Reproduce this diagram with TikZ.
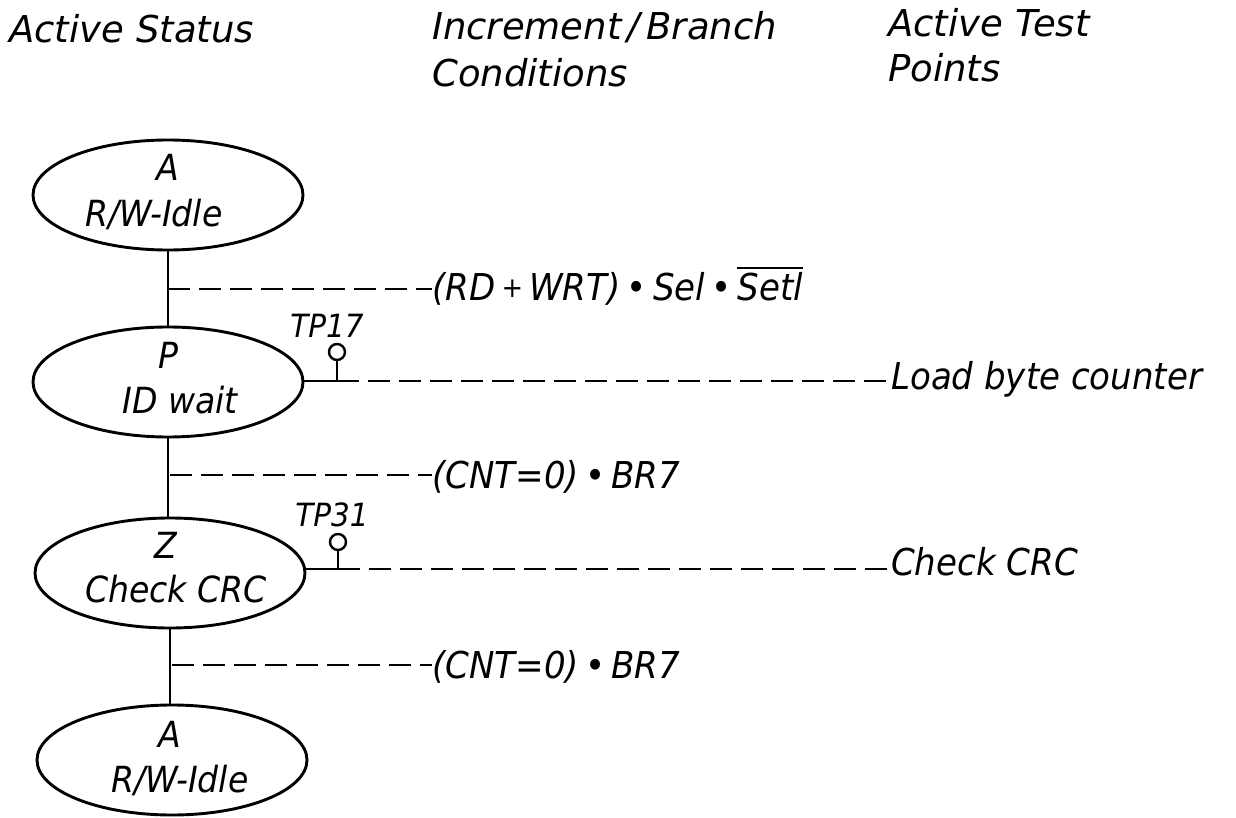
\documentclass[tikz,border=0pt]{standalone}
\usepackage{fontspec}
\setmainfont{DejaVu Sans}
\newfontfamily\bodyfont[FakeStretch=0.92]{DejaVu Sans}
\usetikzlibrary{shapes.geometric}
\newcommand{\ovlbar}[1]{\vbox{\hrule height 2.2pt\kern 3pt\hbox{#1}}}
\newcommand{\smplus}{\,\raisebox{2.5pt}{\fontsize{28}{30}\selectfont +}\,}
\begin{document}
\begin{tikzpicture}[x=1pt,y=-1pt,
  head/.style={font=\fontsize{37}{45}\selectfont\itshape, inner sep=0pt},
  lbl/.style={font=\bodyfont\fontsize{37}{45}\selectfont\itshape, inner sep=0pt},
  inlbl/.style={font=\bodyfont\fontsize{36}{45}\selectfont\itshape, inner sep=0pt},
  tplbl/.style={font=\bodyfont\fontsize{32}{36}\selectfont\itshape, inner sep=0pt},
  state/.style={ellipse, draw, line width=2.9pt, minimum width=270pt, minimum height=110pt, inner sep=0pt},
  wire/.style={line width=2.6pt},
  cond/.style={line width=2.3pt, dash pattern=on 22pt off 9pt},
  tpcirc/.style={circle, draw, line width=2.4pt, minimum size=16pt, inner sep=0pt}]
\useasboundingbox (0,0) rectangle (1236,818);

% headers
\node[head, anchor=base west] (h1) at (9,43) {Active Status};
\node[head, anchor=base west] (h2a) at (432,40) {Increment\,/\,Branch};
\node[head, anchor=base west] (h2b) at (432,87) {Conditions};
\node[head, anchor=base west] (h3a) at (888,37) {Active Test};
\node[head, anchor=base west] (h3b) at (888,82) {Points};

% states
\node[state] (s1) at (168,195) {};
\node[inlbl, anchor=base] (s1a) at (168,181) {A};
\node[inlbl, anchor=base] (s1b) at (154,227) {R/W-Idle};

\node[state] (s2) at (168,382) {};
\node[inlbl, anchor=base] (s2a) at (168,368) {P};
\node[inlbl, anchor=base] (s2b) at (180,413) {ID wait};

\node[state] (s3) at (170,573) {};
\node[inlbl, anchor=base] (s3a) at (166,558) {Z};
\node[inlbl, anchor=base] (s3b) at (176,602) {Check CRC};

\node[state] (s4) at (172,760) {};
\node[inlbl, anchor=base] (s4a) at (170,747) {A};
\node[inlbl, anchor=base] (s4b) at (180,792) {R/W-Idle};

% vertical connectors
\draw[wire] (s1.south) -- (s1.south |- s2.north);
\draw[wire] (s2.south) -- (s2.south |- s3.north);
\draw[wire] (s3.south) -- (s3.south |- s4.north);

% branch conditions
\node[lbl, anchor=base west] (c1) at (432,300) {(RD\smplus WRT)\,•\,Sel\,•\,\ovlbar{Setl}};
\node[lbl, anchor=base west] (c2) at (432,488) {(CNT=0)\,•\,BR7};
\node[lbl, anchor=base west] (c3) at (432,678) {(CNT=0)\,•\,BR7};
\coordinate (j1) at (168,289);
\coordinate (j2) at (170,475);
\coordinate (j3) at (172,665);
\draw[cond] (j1) -- (j1 -| c1.west);
\draw[cond] (j2) -- (j2 -| c2.west);
\draw[cond] (j3) -- (j3 -| c3.west);

% test points
\node[tpcirc] (tp17) at (337,352) {};
\node[tplbl, anchor=base] (tp17l) at (327,337) {TP17};
\coordinate (k1) at (337,381);
\draw[wire] (s2.east |- k1) -- (k1) -- (tp17.south);
\node[lbl, anchor=base west] (a1) at (891,389) {Load byte counter};
\draw[cond] (k1) -- (k1 -| a1.west);

\node[tpcirc] (tp31) at (338,542) {};
\node[tplbl, anchor=base] (tp31l) at (332,526) {TP31};
\coordinate (k2) at (338,569);
\draw[wire] (s3.east |- k2) -- (k2) -- (tp31.south);
\node[lbl, anchor=base west] (a2) at (891,575) {Check CRC};
\draw[cond] (k2) -- (k2 -| a2.west);
\end{tikzpicture}
\end{document}
